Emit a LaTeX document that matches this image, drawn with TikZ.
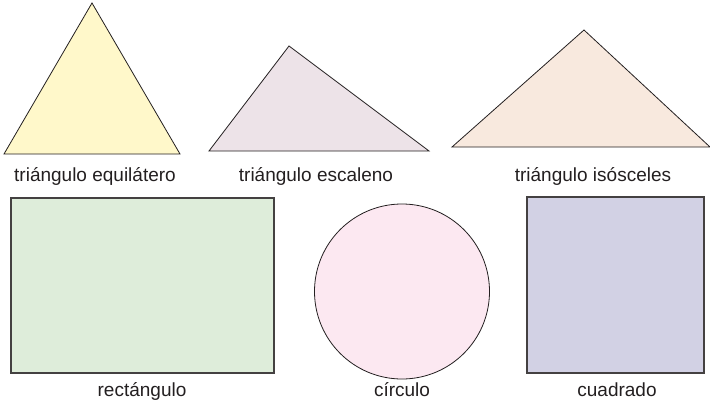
\documentclass[tikz,border=0pt]{standalone}
\usepackage{fontspec}
\setmainfont{Liberation Sans}
\usepackage{xcolor}
\definecolor{figink}{HTML}{231F20}
\definecolor{figyellow}{HTML}{FFF8CA}
\definecolor{figmauve}{HTML}{EDE3E8}
\definecolor{figpeach}{HTML}{F8E9DE}
\definecolor{figgreen}{HTML}{DEEDDA}
\definecolor{figpink}{HTML}{FCE8F1}
\definecolor{figlilac}{HTML}{D2D1E4}

\begin{document}
\begin{tikzpicture}[
    x=1pt, y=-1pt,
    tri/.style={draw=figink, line width=0.8pt, line join=miter},
    box/.style={draw=figink!85, line width=1.1pt},
    lbl/.style={anchor=base, inner sep=0pt, text=figink, font=\fontsize{19}{22}\selectfont}
]
    \useasboundingbox (0,0) rectangle (710,404);

    % Triangles
    \filldraw[tri, fill=figyellow] (92,3) -- (180,154) -- (4,154) -- cycle;
    \filldraw[tri, fill=figmauve] (289,46) -- (429,151) -- (209,151) -- cycle;
    \filldraw[tri, fill=figpeach] (584,30) -- (710,147) -- (452,147) -- cycle;

    % Quadrilaterals and circle
    \filldraw[box, fill=figgreen] (11,198) rectangle (274,373);
    \filldraw[tri, fill=figpink] (402,291.5) circle[radius=87.5];
    \filldraw[box, fill=figlilac] (527,197) rectangle (704,373);

    % Labels
    \node[lbl] (lequi) at (95,181) {triángulo equilátero};
    \node[lbl] (lesca) at (316,181) {triángulo escaleno};
    \node[lbl] (liso)  at (593,181) {triángulo isósceles};
    \node[lbl] (lrect) at (142,396) {rectángulo};
    \node[lbl] (lcirc) at (402,396) {círculo};
    \node[lbl] (lsq)   at (617,396) {cuadrado};
\end{tikzpicture}
\end{document}
